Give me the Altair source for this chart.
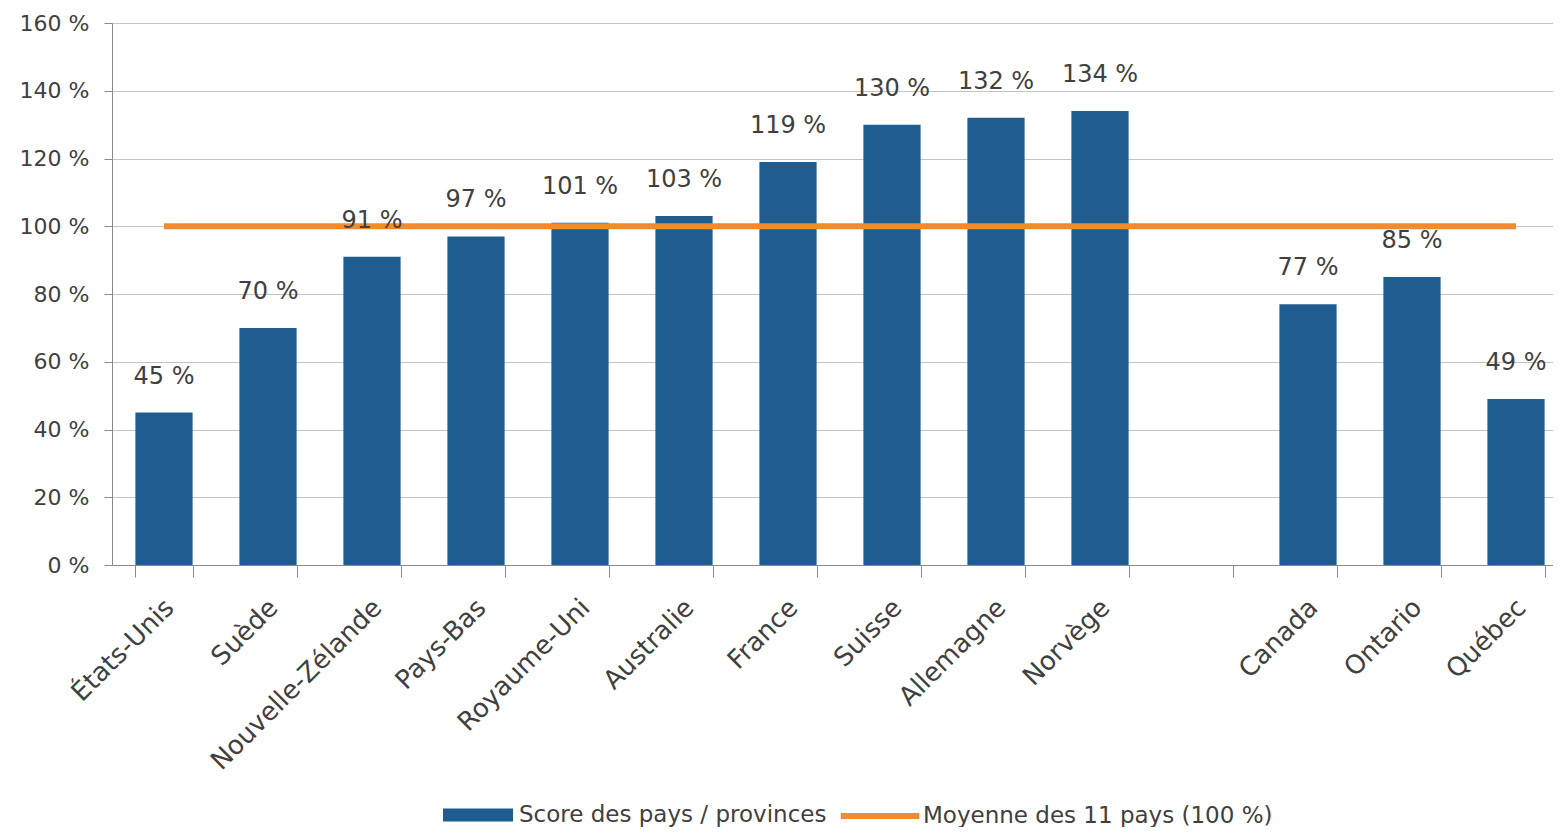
import altair as alt
import pandas as pd

# ---- data -------------------------------------------------------------
categories = ["États-Unis", "Suède", "Nouvelle-Zélande", "Pays-Bas", "Royaume-Uni",
              "Australie", "France", "Suisse", "Allemagne", "Norvège",
              "Canada", "Ontario", "Québec"]
scores = [45, 70, 91, 97, 101, 103, 119, 130, 132, 134, 77, 85, 49]
axis_order = categories[:10] + [" "] + categories[10:]   # empty slot before Canada
average_value = 100
y_tick_values = [0, 20, 40, 60, 80, 100, 120, 140, 160]
bar_series = "Score des pays / provinces"
line_series = "Moyenne des 11 pays (100 %)"

# ---- styling ----------------------------------------------------------
FONT = "DejaVu Sans"
TEXT = "#404040"
BAR_COLOR = "#1F5C8F"
LINE_COLOR = "#F28A2E"
AXIS_COLOR = "#8a8a8a"
GRID_COLOR = "#c4c4c4"

bars_df = pd.DataFrame({"pays": categories, "score": scores, "serie": bar_series})
line_df = pd.DataFrame({"pays": [axis_order[0], axis_order[-1]],
                        "score": [average_value, average_value],
                        "serie": line_series})

x_scale = alt.Scale(domain=axis_order, paddingInner=0.45, paddingOuter=0.225)
y_scale = alt.Scale(domain=[0, 160], nice=False)

x_enc = alt.X("pays:N", sort=axis_order, scale=x_scale, title=None,
              axis=alt.Axis(labelAngle=-45, labelAlign="right", labelBaseline="top",
                            labelPadding=17, labelOffset=-4, labelFont=FONT,
                            labelFontSize=26, labelColor=TEXT, labelLimit=400,
                            tickBand="extent", tickSize=12, tickColor=AXIS_COLOR,
                            domainColor=AXIS_COLOR, grid=False))
y_enc = alt.Y("score:Q", scale=y_scale, title=None,
              axis=alt.Axis(values=y_tick_values, labelExpr="datum.value + ' %'",
                            labelFont=FONT, labelFontSize=22, labelColor=TEXT,
                            labelPadding=15, tickSize=8, tickColor=AXIS_COLOR,
                            domainColor=AXIS_COLOR, gridColor=GRID_COLOR))

bars = alt.Chart(bars_df).mark_bar().encode(
    x=x_enc,
    y=y_enc,
    fill=alt.Fill("serie:N",
                  scale=alt.Scale(domain=[bar_series], range=[BAR_COLOR]),
                  legend=alt.Legend(title=None, orient="none", legendX=352, legendY=778,
                                    symbolType="M-2.5,-0.46H2.5V0.46H-2.5Z",
                                    symbolSize=784, symbolStrokeWidth=0,
                                    labelOffset=27, labelFont=FONT, labelFontSize=23,
                                    labelColor=TEXT, labelLimit=500, padding=0)),
)

line = alt.Chart(line_df).mark_line(strokeWidth=6, strokeCap="butt").encode(
    x=alt.X("pays:N", sort=axis_order, scale=x_scale),
    y=alt.Y("score:Q", scale=y_scale),
    stroke=alt.Stroke("serie:N",
                      scale=alt.Scale(domain=[line_series], range=[LINE_COLOR]),
                      legend=alt.Legend(title=None, orient="none", legendX=751, legendY=776,
                                        symbolType="M-2.8,0H2.8", symbolSize=784,
                                        symbolStrokeWidth=6, labelOffset=26,
                                        labelFont=FONT, labelFontSize=23,
                                        labelColor=TEXT, labelLimit=500, padding=0)),
)

labels = alt.Chart(bars_df).transform_calculate(
    label="datum.score + ' %'"
).mark_text(baseline="middle", dy=-36, font=FONT, fontSize=24, color=TEXT).encode(
    x=alt.X("pays:N", sort=axis_order, scale=x_scale),
    y=alt.Y("score:Q", scale=y_scale),
    text="label:N",
)

chart = alt.layer(bars, line, labels).properties(
    width=1456,
    height=542,
    autosize=alt.AutoSizeParams(type="none"),
    padding={"left": 104, "top": 15, "right": -15, "bottom": 262},
    background="white",
).configure_view(stroke=None)

chart.save("out.html", embed_options={"renderer": "svg", "actions": False})
